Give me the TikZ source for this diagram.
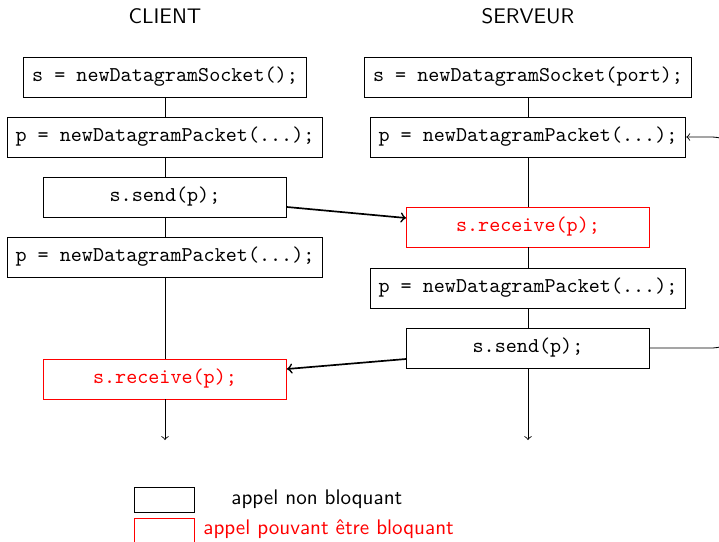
\documentclass[tikz,border=0pt]{standalone}
\usetikzlibrary{calc}
\begin{document}
\begin{tikzpicture}[x=0.4743pt,y=-0.4743pt,
  callbox/.style={draw,inner xsep=4pt,minimum height=19pt,font=\ttfamily},
  fixedbox/.style={callbox,minimum width=115.3pt},
  blocking/.style={draw=red,text=red},
  flow/.style={->},
  message/.style={->,thick},
  title/.style={font=\sffamily}]
\useasboundingbox (0,0) rectangle (719,541);
\clip (0,0) rectangle (719,541);

% column headings
\node[title] (hc) at (165,16) {CLIENT};
\node[title] (hs) at (528,16) {SERVEUR};

% client side
\node[callbox] (c1) at (165,77) {s = newDatagramSocket();};
\node[callbox] (c2) at (165,137) {p = newDatagramPacket(...);};
\node[fixedbox] (c3) at (165,197) {s.send(p);};
\node[callbox] (c4) at (165,257) {p = newDatagramPacket(...);};
\node[fixedbox,blocking] (c5) at (165,379) {s.receive(p);};
\coordinate (cend) at (165,440);

% server side
\node[callbox] (s1) at (528,77) {s = newDatagramSocket(port);};
\node[callbox] (s2) at (528,137) {p = newDatagramPacket(...);};
\node[fixedbox,blocking] (s3) at (528,227) {s.receive(p);};
\node[callbox] (s4) at (528,288) {p = newDatagramPacket(...);};
\node[fixedbox] (s5) at (528,348) {s.send(p);};
\coordinate (send) at (528,440);

% timelines
\draw (c1) -- (c2) (c2) -- (c3) (c3) -- (c4) (c4) -- (c5);
\draw[flow] (c5) -- (cend);
\draw (s1) -- (s2) (s2) -- (s3) (s3) -- (s4) (s4) -- (s5);
\draw[flow] (s5) -- (send);

% messages
\draw[message] ($(c3.east)+(0,10)$) -- ($(s3.west)+(0,-9)$);
\draw[message] ($(s5.west)+(0,11)$) -- ($(c5.east)+(0,-10)$);

% server loop
\coordinate (lb) at (738,348);
\coordinate (lt) at (738,137);
\draw[flow,rounded corners=12pt] (s5.east) -- (lb) -- (lt) -- (s2.east);

% legend
\node[draw,minimum width=28.5pt,minimum height=11.6pt,inner sep=0pt] (k1) at (164.5,500) {};
\node[draw=red,minimum width=28.5pt,minimum height=11.9pt,inner sep=0pt] (k2) at (164.5,530.5) {};
\node[title,anchor=west,inner sep=0pt] (t1) at (231,499) {appel non bloquant};
\node[title,anchor=west,inner sep=0pt,text=red] (t2) at (203,529) {appel pouvant être bloquant};
\end{tikzpicture}
\end{document}
